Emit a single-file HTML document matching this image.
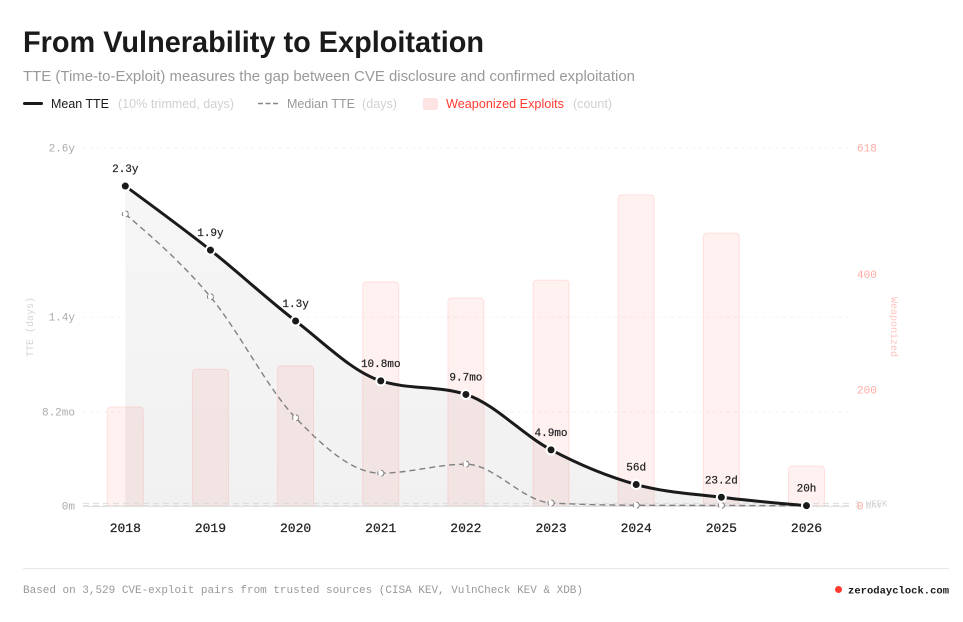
<!DOCTYPE html>
<html lang="en">
<head>
<meta charset="utf-8">
<title>From Vulnerability to Exploitation</title>
<style>
html,body{margin:0;padding:0;background:#fff;width:963px;height:622px;overflow:hidden}
svg{display:block;position:absolute;left:0;top:0}
text{font-family:"Liberation Sans",sans-serif}
.m{font-family:"Liberation Mono",monospace}
</style>
</head>
<body>
<svg id="chart" width="963" height="622" viewBox="0 0 963 622">
  <defs>
    <linearGradient id="areaGrad" gradientUnits="userSpaceOnUse" x1="0" y1="186" x2="0" y2="506">
      <stop offset="0" stop-color="#f6f6f6"/>
      <stop offset="1" stop-color="#f1f1f1"/>
    </linearGradient>
  </defs>
  <text x="23" y="52" font-size="30" font-weight="700" fill="#1a1a1a" textLength="461" lengthAdjust="spacingAndGlyphs">From Vulnerability to Exploitation</text>
  <text x="23" y="81" font-size="14.5" fill="#999" textLength="612" lengthAdjust="spacingAndGlyphs">TTE (Time-to-Exploit) measures the gap between CVE disclosure and confirmed exploitation</text>

  <g>
    <line x1="24.5" y1="103.5" x2="41.5" y2="103.5" stroke="#1a1a1a" stroke-width="3" stroke-linecap="round"/>
    <text x="51" y="108" font-size="12.5" fill="#1a1a1a" textLength="58" lengthAdjust="spacingAndGlyphs">Mean TTE</text>
    <text x="118" y="108" font-size="12.5" fill="#d0d0d0" textLength="116" lengthAdjust="spacingAndGlyphs">(10% trimmed, days)</text>
    <line x1="258" y1="103.5" x2="278" y2="103.5" stroke="#888" stroke-width="1.5" stroke-dasharray="5 2.5"/>
    <text x="287" y="108" font-size="12.5" fill="#999" textLength="68" lengthAdjust="spacingAndGlyphs">Median TTE</text>
    <text x="362" y="108" font-size="12.5" fill="#d0d0d0" textLength="35" lengthAdjust="spacingAndGlyphs">(days)</text>
    <rect x="423" y="98" width="15" height="12" rx="2" fill="#fde3e1"/>
    <text x="446" y="108" font-size="12.5" fill="#ff3b30" textLength="118" lengthAdjust="spacingAndGlyphs">Weaponized Exploits</text>
    <text x="573" y="108" font-size="12.5" fill="#d0d0d0" textLength="39" lengthAdjust="spacingAndGlyphs">(count)</text>
  </g>

  <g id="plot"></g>

  <text class="m" x="0" y="0" transform="translate(33 357) rotate(-90)" font-size="10" fill="#d4d4d4" textLength="60">TTE (days)</text>
  <text class="m" x="0" y="0" transform="translate(891 297) rotate(90)" font-size="10" fill="#ffc4bf" textLength="60">Weaponized</text>

  <line x1="23" y1="568.5" x2="949" y2="568.5" stroke="#e8e8e8" stroke-width="1"/>
  <text class="m" x="23" y="593" font-size="11" fill="#999" textLength="560">Based on 3,529 CVE-exploit pairs from trusted sources (CISA KEV, VulnCheck KEV &amp; XDB)</text>
  <circle cx="838.5" cy="589.5" r="3.5" fill="#ff3b30"/>
  <text class="m" x="848" y="593.5" font-size="10.5" font-weight="700" fill="#1a1a1a" textLength="101">zerodayclock.com</text>
</svg>

<script>
const years = ['2018','2019','2020','2021','2022','2023','2024','2025','2026'];
const meanDays = [849,679,491,332,296,149,57,23.2,0.83];
const meanLabels = ['2.3y','1.9y','1.3y','10.8mo','9.7mo','4.9mo','56d','23.2d','20h'];
const medianDays = [775,555,234,87,111,8,2,1.5,0.5];
const exploitCounts = [171,236,242,387,359,390,537,471,69];
const leftTickValues = [950,501,250,0];
const leftTickLabels = ['2.6y','1.4y','8.2mo','0m'];
const rightTickValues = [618,400,200,0];
const rightTickLabels = ['618','400','200','0'];
const thresholdValues = [7,1];
const thresholdLabels = ['1 WEEK','1 DAY'];

const NS = 'http://www.w3.org/2000/svg';
const plot = document.getElementById('plot');
const X0 = 125.3, XSTEP = 85.15, YBASE = 506, YTOP = 148;
const LEFT_MAX = 950, RIGHT_MAX = 618;
const xPos = i => X0 + i * XSTEP;
const yLeft = v => YBASE - (v / LEFT_MAX) * (YBASE - YTOP);
const yRight = v => YBASE - (v / RIGHT_MAX) * (YBASE - YTOP);

function make(tag, attrs, text) {
  const el = document.createElementNS(NS, tag);
  for (const k in attrs) el.setAttribute(k, attrs[k]);
  if (text !== undefined) el.textContent = text;
  plot.appendChild(el);
  return el;
}

/* monotone cubic interpolation through points */
function sign(v) { return v < 0 ? -1 : 1; }
function monotonePath(pts) {
  const n = pts.length, t = new Array(n);
  for (let i = 1; i < n - 1; i++) {
    const h0 = pts[i][0] - pts[i-1][0], h1 = pts[i+1][0] - pts[i][0];
    const s0 = (pts[i][1] - pts[i-1][1]) / h0, s1 = (pts[i+1][1] - pts[i][1]) / h1;
    const p = (s0 * h1 + s1 * h0) / (h0 + h1);
    t[i] = (sign(s0) + sign(s1)) * Math.min(Math.abs(s0), Math.abs(s1), 0.5 * Math.abs(p)) || 0;
  }
  const h = pts[1][0] - pts[0][0];
  t[0] = (3 * (pts[1][1] - pts[0][1]) / h - t[1]) / 2;
  const hl = pts[n-1][0] - pts[n-2][0];
  t[n-1] = (3 * (pts[n-1][1] - pts[n-2][1]) / hl - t[n-2]) / 2;
  let d = 'M' + pts[0][0] + ',' + pts[0][1];
  for (let i = 0; i < n - 1; i++) {
    const dx = (pts[i+1][0] - pts[i][0]) / 3;
    d += 'C' + (pts[i][0] + dx) + ',' + (pts[i][1] + dx * t[i]) + ' ' +
         (pts[i+1][0] - dx) + ',' + (pts[i+1][1] - dx * t[i+1]) + ' ' +
         pts[i+1][0] + ',' + pts[i+1][1];
  }
  return d;
}

/* gridlines */
leftTickValues.forEach((v, i) => {
  if (v > 0) {
    const g = make('line', {x1: 83, x2: 849, y1: yLeft(v), y2: yLeft(v), stroke: '#f3f3f3', 'stroke-width': 1, 'stroke-dasharray': '3 4'});
    
    
  }
});

/* area below the mean line */
const meanPts = meanDays.map((v, i) => [xPos(i), yLeft(v)]);
const medianPts = medianDays.map((v, i) => [xPos(i), yLeft(v)]);
const areaEl = make('path', {d: monotonePath(meanPts) + 'L' + xPos(years.length - 1) + ',' + YBASE + 'L' + xPos(0) + ',' + YBASE + 'Z', fill: 'url(#areaGrad)'});



/* bars */
exploitCounts.forEach((c, i) => {
  const top = yRight(c);
  const bar = make('path', {
    d: 'M' + (xPos(i) - 18) + ',' + YBASE + 'V' + (top + 4) + 'q0,-4 4,-4H' + (xPos(i) + 14) + 'q4,0 4,4V' + YBASE + 'Z',
    fill: 'rgba(255,59,48,0.07)', stroke: 'rgba(255,59,48,0.12)', 'stroke-width': 1
  });
  
  
});

/* baseline and threshold lines */
const axisLine = make('line', {x1: 83, x2: 849, y1: YBASE + 0.5, y2: YBASE + 0.5, stroke: '#e2e2e2', 'stroke-width': 1});


thresholdValues.forEach((v, i) => {
  const t = make('line', {x1: 83, x2: 849, y1: yLeft(v), y2: yLeft(v), stroke: '#dcdcdc', 'stroke-width': 1, 'stroke-dasharray': '6 4'});
  
  
  const lab = make('text', {class: 'm', x: 855, y: yLeft(v) + 3, 'font-size': 9, fill: '#d4d4d4'}, thresholdLabels[i]);
  
  
});

/* median line */
const medLine = make('path', {d: monotonePath(medianPts), fill: 'none', stroke: '#808080', 'stroke-width': 1.4, 'stroke-dasharray': '6 4'});


medianPts.forEach((p, i) => {
  const c = make('circle', {cx: p[0], cy: p[1], r: 3, fill: '#fff', stroke: '#808080', 'stroke-width': 1, 'stroke-dasharray': '4 3'});
  
  
});

/* mean line */
const meanLine = make('path', {d: monotonePath(meanPts), fill: 'none', stroke: '#1a1a1a', 'stroke-width': 3, 'stroke-linejoin': 'round'});


meanPts.forEach((p, i) => {
  const c = make('circle', {cx: p[0], cy: p[1], r: 4.5, fill: '#1a1a1a', stroke: '#fff', 'stroke-width': 2});
  
  
  const l = make('text', {class: 'm', x: p[0], y: p[1] - 14, 'font-size': 11, fill: '#222', 'text-anchor': 'middle', stroke: '#222', 'stroke-width': 0.2}, meanLabels[i]);
  
  
});

/* x axis labels */
years.forEach((y, i) => {
  const t = make('text', {class: 'm', x: xPos(i), y: 532, 'font-size': 13, fill: '#222', 'text-anchor': 'middle', stroke: '#222', 'stroke-width': 0.25}, y);
  
  
});

/* left axis ticks */
leftTickValues.forEach((v, i) => {
  const t = make('text', {class: 'm', x: 75, y: yLeft(v) + 3.5, 'font-size': 11, fill: '#aaa', 'text-anchor': 'end'}, leftTickLabels[i]);
  
  
});

/* right axis ticks */
rightTickValues.forEach((v, i) => {
  const t = make('text', {class: 'm', x: 857, y: yRight(v) + 3.5, 'font-size': 11, fill: '#ffaaa3'}, rightTickLabels[i]);
  
  
});
</script>
</body>
</html>
